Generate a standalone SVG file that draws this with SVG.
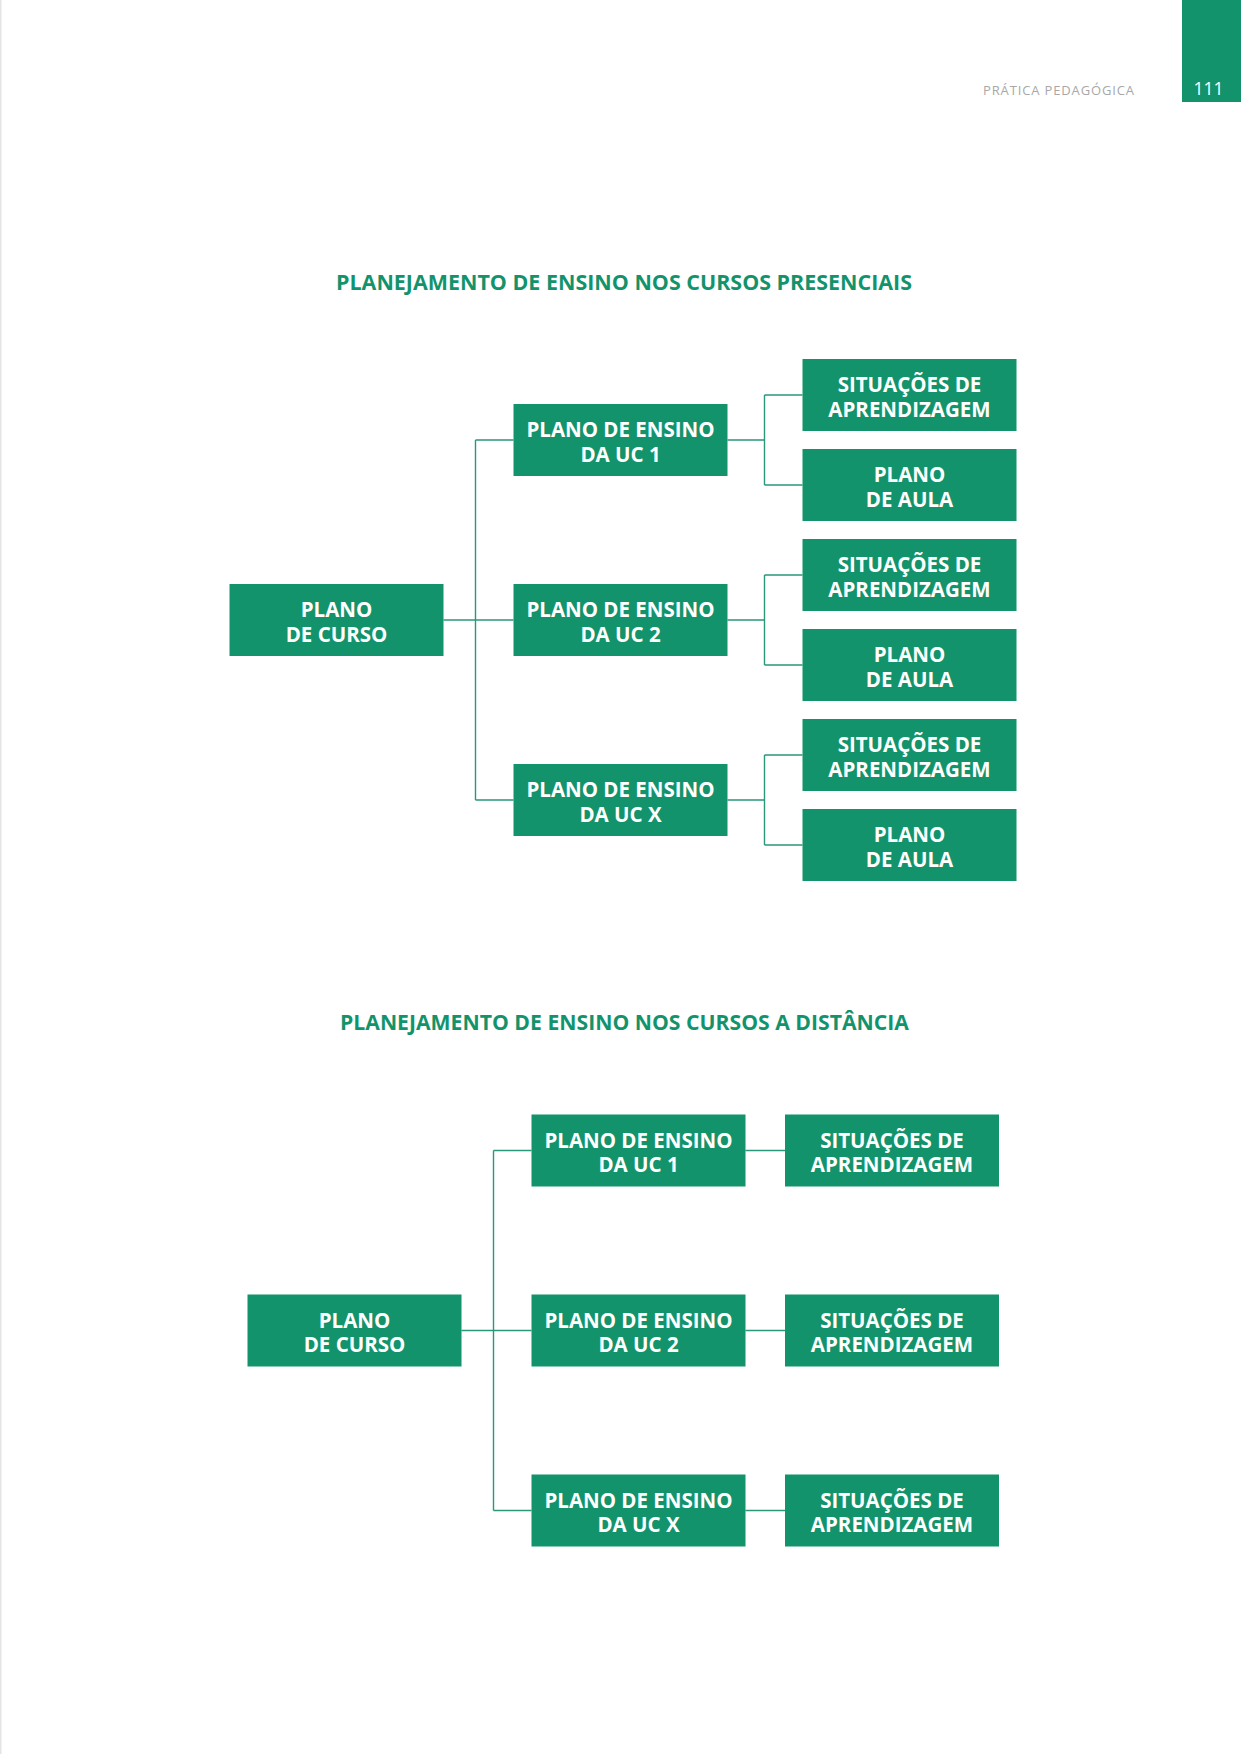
<svg xmlns="http://www.w3.org/2000/svg" width="1241" height="1754" viewBox="0 0 1241 1754">
<style>
.box{fill:#13936b}
.bt{font-family:"Open Sans","Noto Sans",sans-serif;font-weight:700;font-size:20.5px;fill:#ffffff;text-anchor:middle}
.title{font-family:"Open Sans","Noto Sans",sans-serif;font-weight:700;font-size:22px;fill:#13936b}
.conn path{fill:none;stroke:#2b977a;stroke-width:1.4}
</style>
<rect x="0" y="0" width="1241" height="1754" fill="#ffffff"/>
<line x1="0.75" y1="0" x2="0.75" y2="1754" stroke="#e4e4e4" stroke-width="1.5"/>
<g id="header">
<rect x="1182" y="0" width="59" height="102" fill="#13936b"/>
<text x="1208.5" y="95" font-family="Open Sans, sans-serif" font-size="17.5" fill="#ffffff" text-anchor="middle">111</text>
<text x="983" y="95" font-family="Open Sans, sans-serif" font-size="13" fill="#a8a8a8" textLength="151" lengthAdjust="spacing">PRÁTICA PEDAGÓGICA</text>
</g>
<text id="title1" class="title" x="336" y="290" textLength="576" lengthAdjust="spacingAndGlyphs">PLANEJAMENTO DE ENSINO NOS CURSOS PRESENCIAIS</text>
<text id="title2" class="title" x="340" y="1030" textLength="569" lengthAdjust="spacingAndGlyphs">PLANEJAMENTO DE ENSINO NOS CURSOS A DISTÂNCIA</text>

<g class="conn" id="connectors">
<path d="M443.5 620 H513.5"/>
<path d="M475.5 440 V800 M475.5 440 H513.5 M475.5 800 H513.5"/>
<path d="M727.5 440 H764.5 M764.5 395 V485 M764.5 395 H802.5 M764.5 485 H802.5"/>
<path d="M727.5 620 H764.5 M764.5 575 V665 M764.5 575 H802.5 M764.5 665 H802.5"/>
<path d="M727.5 800 H764.5 M764.5 755 V845 M764.5 755 H802.5 M764.5 845 H802.5"/>
<path d="M461.5 1330.5 H531.5"/>
<path d="M493.5 1150.5 V1510.5 M493.5 1150.5 H531.5 M493.5 1510.5 H531.5"/>
<path d="M745.5 1150.5 H785 M745.5 1330.5 H785 M745.5 1510.5 H785"/>
</g>

<g id="p-curso">
<rect class="box" x="229.5" y="584" width="214" height="72"/>
<text class="bt" x="336.5" y="617">PLANO</text><text class="bt" x="336.5" y="641.5">DE CURSO</text>
</g>
<g id="p-uc1">
<rect class="box" x="513.5" y="404" width="214" height="72"/>
<text class="bt" x="620.5" y="437">PLANO DE ENSINO</text><text class="bt" x="620.5" y="461.5">DA UC 1</text>
</g>
<g id="p-uc2">
<rect class="box" x="513.5" y="584" width="214" height="72"/>
<text class="bt" x="620.5" y="617">PLANO DE ENSINO</text><text class="bt" x="620.5" y="641.5">DA UC 2</text>
</g>
<g id="p-ucx">
<rect class="box" x="513.5" y="764" width="214" height="72"/>
<text class="bt" x="620.5" y="797">PLANO DE ENSINO</text><text class="bt" x="620.5" y="821.5">DA UC X</text>
</g>
<g id="p-sa1">
<rect class="box" x="802.5" y="359" width="214" height="72"/>
<text class="bt" x="909.5" y="392">SITUAÇÕES DE</text><text class="bt" x="909.5" y="416.5">APRENDIZAGEM</text>
</g>
<g id="p-pa1">
<rect class="box" x="802.5" y="449" width="214" height="72"/>
<text class="bt" x="909.5" y="482">PLANO</text><text class="bt" x="909.5" y="506.5">DE AULA</text>
</g>
<g id="p-sa2">
<rect class="box" x="802.5" y="539" width="214" height="72"/>
<text class="bt" x="909.5" y="572">SITUAÇÕES DE</text><text class="bt" x="909.5" y="596.5">APRENDIZAGEM</text>
</g>
<g id="p-pa2">
<rect class="box" x="802.5" y="629" width="214" height="72"/>
<text class="bt" x="909.5" y="662">PLANO</text><text class="bt" x="909.5" y="686.5">DE AULA</text>
</g>
<g id="p-sa3">
<rect class="box" x="802.5" y="719" width="214" height="72"/>
<text class="bt" x="909.5" y="752">SITUAÇÕES DE</text><text class="bt" x="909.5" y="776.5">APRENDIZAGEM</text>
</g>
<g id="p-pa3">
<rect class="box" x="802.5" y="809" width="214" height="72"/>
<text class="bt" x="909.5" y="842">PLANO</text><text class="bt" x="909.5" y="866.5">DE AULA</text>
</g>

<g id="d-curso">
<rect class="box" x="247.5" y="1294.5" width="214" height="72"/>
<text class="bt" x="354.5" y="1327.5">PLANO</text><text class="bt" x="354.5" y="1352">DE CURSO</text>
</g>
<g id="d-uc1">
<rect class="box" x="531.5" y="1114.5" width="214" height="72"/>
<text class="bt" x="638.5" y="1147.5">PLANO DE ENSINO</text><text class="bt" x="638.5" y="1172">DA UC 1</text>
</g>
<g id="d-uc2">
<rect class="box" x="531.5" y="1294.5" width="214" height="72"/>
<text class="bt" x="638.5" y="1327.5">PLANO DE ENSINO</text><text class="bt" x="638.5" y="1352">DA UC 2</text>
</g>
<g id="d-ucx">
<rect class="box" x="531.5" y="1474.5" width="214" height="72"/>
<text class="bt" x="638.5" y="1507.5">PLANO DE ENSINO</text><text class="bt" x="638.5" y="1532">DA UC X</text>
</g>
<g id="d-sa1">
<rect class="box" x="785" y="1114.5" width="214" height="72"/>
<text class="bt" x="892" y="1147.5">SITUAÇÕES DE</text><text class="bt" x="892" y="1172">APRENDIZAGEM</text>
</g>
<g id="d-sa2">
<rect class="box" x="785" y="1294.5" width="214" height="72"/>
<text class="bt" x="892" y="1327.5">SITUAÇÕES DE</text><text class="bt" x="892" y="1352">APRENDIZAGEM</text>
</g>
<g id="d-sa3">
<rect class="box" x="785" y="1474.5" width="214" height="72"/>
<text class="bt" x="892" y="1507.5">SITUAÇÕES DE</text><text class="bt" x="892" y="1532">APRENDIZAGEM</text>
</g>
</svg>
